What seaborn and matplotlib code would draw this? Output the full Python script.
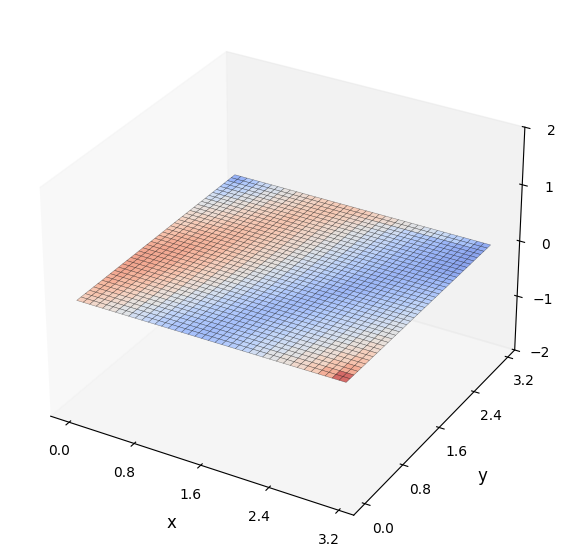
import numpy as np
import matplotlib
matplotlib.use("Agg")
import matplotlib.pyplot as plt
import seaborn as sns
from matplotlib.colors import Normalize

# Colour level of the surface, by patches of the mesh.
# Rows run along y (0 to pi), columns along x (0 to pi).
level_rows = [
 [.27,.17,.07,-.03,-.16,-.27,-.37,-.45,-.50,-.52,-.47,-.40,-.30,-.17,-.02,.06,.16,.28,.50,.88],
 [.36,.26,.15,.04,-.08,-.20,-.31,-.40,-.47,-.52,-.47,-.40,-.32,-.22,-.12,-.01,.08,.18,.33,.52],
 [.44,.35,.24,.12,.00,-.12,-.24,-.34,-.42,-.48,-.50,-.44,-.36,-.28,-.19,-.09,.01,.10,.22,.36],
 [.50,.42,.32,.20,.08,-.05,-.17,-.28,-.37,-.45,-.50,-.47,-.40,-.33,-.25,-.16,-.07,.03,.12,.25],
 [.55,.48,.38,.27,.15,.03,-.09,-.21,-.32,-.41,-.49,-.50,-.45,-.39,-.31,-.23,-.14,-.05,.05,.14],
 [.57,.52,.43,.33,.22,.10,-.02,-.14,-.26,-.36,-.45,-.51,-.49,-.44,-.37,-.29,-.21,-.12,-.03,.06],
 [.58,.54,.47,.38,.28,.17,.05,-.07,-.19,-.30,-.40,-.48,-.52,-.48,-.42,-.35,-.27,-.19,-.10,-.01],
 [.57,.55,.50,.42,.33,.22,.11,.00,-.13,-.24,-.35,-.44,-.51,-.52,-.46,-.40,-.33,-.25,-.17,-.08],
 [.53,.55,.52,.45,.37,.27,.16,.05,-.06,-.18,-.29,-.39,-.48,-.54,-.50,-.45,-.38,-.31,-.23,-.15],
 [.46,.52,.52,.47,.40,.31,.21,.10,-.01,-.12,-.24,-.34,-.44,-.52,-.55,-.49,-.44,-.37,-.30,-.22],
 [.39,.46,.48,.47,.41,.33,.24,.14,.04,-.07,-.19,-.29,-.39,-.48,-.54,-.54,-.49,-.43,-.37,-.30],
 [.31,.38,.43,.44,.41,.34,.26,.17,.08,-.03,-.14,-.25,-.35,-.44,-.52,-.56,-.53,-.48,-.43,-.38],
 [.23,.30,.36,.39,.40,.35,.28,.20,.11,.02,-.10,-.21,-.31,-.41,-.49,-.55,-.56,-.53,-.49,-.45],
 [.14,.21,.28,.34,.37,.35,.30,.23,.14,.05,-.05,-.17,-.28,-.38,-.46,-.53,-.57,-.57,-.55,-.53],
 [.05,.12,.20,.27,.32,.35,.31,.25,.17,.08,-.02,-.12,-.24,-.35,-.44,-.51,-.57,-.60,-.60,-.60],
 [-.03,.04,.12,.20,.27,.32,.33,.26,.19,.11,.03,-.08,-.20,-.31,-.41,-.50,-.56,-.61,-.65,-.67],
 [-.15,-.03,.06,.14,.22,.28,.33,.28,.22,.14,.05,-.05,-.16,-.27,-.38,-.48,-.55,-.61,-.66,-.70],
 [-.28,-.15,-.03,.07,.16,.23,.29,.31,.26,.18,.10,.00,-.12,-.23,-.35,-.45,-.53,-.60,-.65,-.70],
 [-.42,-.28,-.14,-.02,.09,.17,.24,.29,.31,.24,.16,.07,-.03,-.16,-.29,-.40,-.50,-.58,-.64,-.70],
 [-.60,-.42,-.24,-.08,.03,.12,.20,.25,.28,.30,.27,.21,.12,.03,-.03,-.12,-.22,-.35,-.48,-.65],
]
xy_ticks = [0.0, 0.8, 1.6, 2.4, 3.2]
z_ticks = [-2, -1, 0, 1, 2]
surface_z = 0.0

levels = np.repeat(np.repeat(np.array(level_rows), 2, axis=0), 2, axis=1)
cmap = sns.color_palette("coolwarm", as_cmap=True)
colors = cmap(Normalize(-1, 1)(levels))
colors[..., 3] = 0.75

grid = np.linspace(0, np.pi, levels.shape[0] + 1)
X, Y = np.meshgrid(grid, grid)
Z = np.full_like(X, surface_z)

fig = plt.figure(figsize=(5.65, 5.59), dpi=100)
ax = fig.add_axes([0.0125, 0.0175, 0.965, 0.965], projection="3d")
ax.plot_surface(X, Y, Z, rstride=1, cstride=1, facecolors=colors, shade=False,
                edgecolor=(0, 0, 0, 0.45), linewidth=0.35)
ax.set_xlim(-0.23, 3.37)
ax.set_ylim(-0.23, 3.37)
ax.set_zlim(-2, 2)
ax.set_xticks(xy_ticks)
ax.set_yticks(xy_ticks)
ax.set_zticks(z_ticks)
ax.tick_params(labelsize=10)
ax.set_xlabel("x", fontsize=12, labelpad=9)
ax.set_ylabel("y", fontsize=12, labelpad=9)
ax.grid(False)
fig.savefig("out.png", dpi=100)
